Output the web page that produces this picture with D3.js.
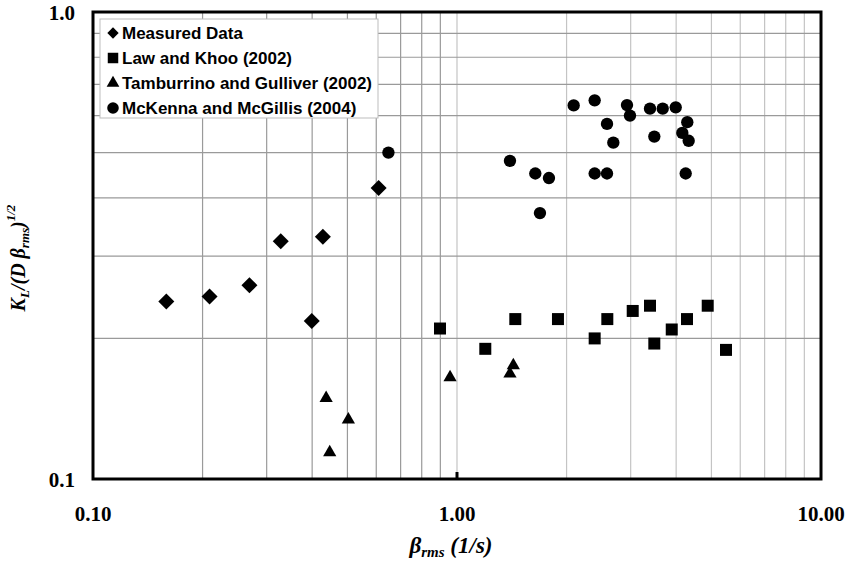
<!DOCTYPE html>
<html><head><meta charset="utf-8">
<script src="https://cdn.jsdelivr.net/npm/d3@7"></script>
<style>html,body{margin:0;padding:0;background:#fff;}</style>
</head><body>
<svg id="chart" width="850" height="571"></svg>
<script>
// ---- data ----
const seriesNames = ["Measured Data", "Law and Khoo (2002)", "Tamburrino and Gulliver (2002)", "McKenna and McGillis (2004)"];
const measuredX = [0.159, 0.209, 0.269, 0.328, 0.428, 0.399, 0.609];
const measuredY = [0.240, 0.246, 0.260, 0.323, 0.330, 0.218, 0.420];
const lawX = [0.898, 1.196, 1.446, 1.894, 2.389, 2.588, 3.039, 3.390, 3.484, 3.890, 4.284, 4.884, 5.483];
const lawY = [0.210, 0.190, 0.220, 0.220, 0.200, 0.220, 0.229, 0.235, 0.195, 0.209, 0.220, 0.235, 0.189];
const tambX = [0.437, 0.503, 0.447, 0.957, 1.428, 1.398];
const tambY = [0.149, 0.134, 0.114, 0.165, 0.175, 0.168];
const mckX = [0.648, 1.398, 1.641, 1.789, 1.690, 2.092, 2.389, 2.583, 2.688, 2.389, 2.583, 2.931, 2.987, 3.390, 3.674, 3.989, 4.292, 4.159, 4.330, 3.484, 4.249];
const mckY = [0.500, 0.480, 0.451, 0.441, 0.371, 0.631, 0.647, 0.576, 0.525, 0.451, 0.451, 0.632, 0.600, 0.621, 0.621, 0.625, 0.581, 0.551, 0.530, 0.541, 0.451];
const xTickVals = [0.1, 1, 10];
const xTickLabels = ["0.10", "1.00", "10.00"];
const yTickVals = [0.1, 1];
const yTickLabels = ["0.1", "1.0"];

// ---- layout ----
const svg = d3.select("#chart");
const m = {left: 93, top: 12, right: 29, bottom: 92};
const W = 850 - m.left - m.right, H = 571 - m.top - m.bottom;
const x = d3.scaleLog().domain([0.1, 10]).range([0, W]);
const y = d3.scaleLog().domain([0.1, 1]).range([H, 0]);
const g = svg.append("g").attr("transform", `translate(${m.left},${m.top})`);

// gridlines
const xGrid = x.ticks().filter(v => v > 0.1 && v < 10);
g.append("g").selectAll("line").data(xGrid).join("line")
  .attr("x1", d => x(d)).attr("x2", d => x(d)).attr("y1", 0).attr("y2", H)
  .attr("stroke", d => d < 1 ? "#9a9a9a" : "#c4c4c4").attr("stroke-width", 1.2);
const yGrid = y.ticks().filter(v => v > 0.1 && v < 1);
g.append("g").selectAll("line").data(yGrid).join("line")
  .attr("x1", 0).attr("x2", W).attr("y1", d => y(d)).attr("y2", d => y(d))
  .attr("stroke", "#9a9a9a").attr("stroke-width", 1.2);

// frame
g.append("rect").attr("x", 0).attr("y", 0).attr("width", W).attr("height", H)
  .attr("fill", "none").attr("stroke", "#000").attr("stroke-width", 3);
// small tick at 1.0
g.append("line").attr("x1", x(1)).attr("x2", x(1)).attr("y1", H).attr("y2", H - 7)
  .attr("stroke", "#000").attr("stroke-width", 3);

// axis labels
const tickFont = "'Liberation Serif','Times New Roman',serif";
g.append("g").selectAll("text").data(xTickVals).join("text")
  .attr("x", d => x(d)).attr("y", H + 42).attr("text-anchor", "middle")
  .attr("font-family", tickFont).attr("font-weight", "bold").attr("font-size", 21)
  .text((d, i) => xTickLabels[i]);
g.append("g").selectAll("text").data(yTickVals).join("text")
  .attr("x", -18).attr("y", d => y(d) + 8).attr("text-anchor", "end")
  .attr("font-family", tickFont).attr("font-weight", "bold").attr("font-size", 21)
  .text((d, i) => yTickLabels[i]);

// x title
const xt = svg.append("text").attr("x", 451).attr("y", 553).attr("text-anchor", "middle")
  .attr("font-family", tickFont).attr("font-weight", "bold").attr("font-style", "italic").attr("font-size", 23);
xt.append("tspan").text("β");
xt.append("tspan").attr("font-size", 15).attr("dy", 4).text("rms");
xt.append("tspan").attr("dy", -4).text(" (1/s)");

// y title
const yt = svg.append("text").attr("transform", "translate(25,258) rotate(-90)").attr("text-anchor", "middle")
  .attr("font-family", tickFont).attr("font-weight", "bold").attr("font-style", "italic").attr("font-size", 20);
yt.append("tspan").text("K");
yt.append("tspan").attr("font-size", 13).attr("dy", 4).text("L");
yt.append("tspan").attr("dy", -4).text("/(D ");
yt.append("tspan").text("β");
yt.append("tspan").attr("font-size", 13).attr("dy", 4).text("rms");
yt.append("tspan").attr("dy", -4).text(")");
yt.append("tspan").attr("font-size", 13).attr("dy", -10).text("1/2");

// markers
const sym = [
  {type: d3.symbolSquare, size: 128, rot: 45, lsize: 64},
  {type: d3.symbolSquare, size: 144, rot: 0, lsize: 110},
  {type: d3.symbolTriangle, size: 76, rot: 0, lsize: 70},
  {type: d3.symbolCircle, size: 120, rot: 0, lsize: 105}
];
const sets = [[measuredX, measuredY], [lawX, lawY], [tambX, tambY], [mckX, mckY]];
sets.forEach(([xs, ys], si) => {
  const s = sym[si];
  const pts = xs.map((v, i) => [v, ys[i]]);
  g.append("g").selectAll("path").data(pts).join("path")
    .attr("d", d3.symbol().type(s.type).size(s.size))
    .attr("transform", d => `translate(${x(d[0])},${y(d[1])}) rotate(${s.rot})`)
    .attr("fill", "#000");
});

// legend
const lg = svg.append("g").attr("transform", "translate(100,19)");
lg.append("rect").attr("x", 0).attr("y", 0).attr("width", 278).attr("height", 99)
  .attr("fill", "#fff").attr("stroke", "#bdbdbd").attr("stroke-width", 1);
seriesNames.forEach((name, i) => {
  const s = sym[i];
  const cy = 14 + i * 25;
  lg.append("path").attr("d", d3.symbol().type(s.type).size(s.lsize))
    .attr("transform", `translate(13,${cy}) rotate(${s.rot})`).attr("fill", "#000");
  lg.append("text").attr("x", 22).attr("y", cy + 6)
    .attr("font-family", "'Liberation Sans',Arial,sans-serif").attr("font-weight", "bold").attr("font-size", 17)
    .attr("fill", "#000").text(name);
});
</script>
</body></html>
